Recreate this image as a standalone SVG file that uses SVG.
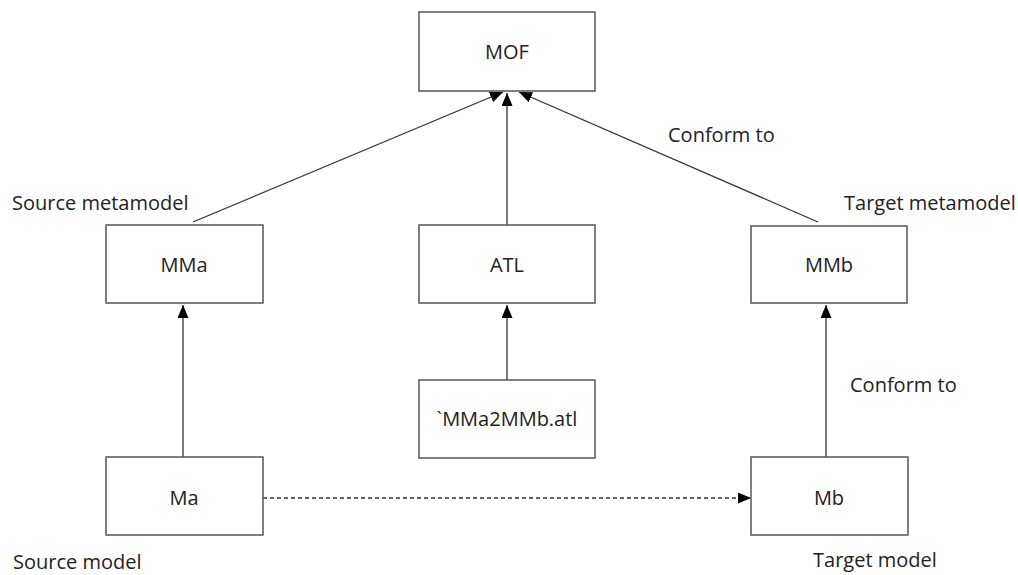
<svg xmlns="http://www.w3.org/2000/svg" width="1018" height="575" viewBox="0 0 1018 575">
<style>
  .box{fill:#fff;stroke:#555;stroke-width:1.5}
  .lbl{font-family:"Open Sans","Liberation Sans",sans-serif;font-size:20px;fill:#222}
  .c{text-anchor:middle}
  .edge{stroke:#333;stroke-width:1.3;fill:none}
  .dash{stroke-dasharray:4 3}
</style>
<defs>
  <marker id="arr" markerUnits="userSpaceOnUse" markerWidth="13" markerHeight="11" refX="13" refY="5.5" orient="auto">
    <path d="M0,0 L13,5.5 L0,11 z" fill="#000"/>
  </marker>
</defs>
<rect width="1018" height="575" fill="#fff"/>
<g id="connectors">
  <line class="edge" x1="193" y1="222" x2="503" y2="92" marker-end="url(#arr)"/>
  <line class="edge" x1="507" y1="225" x2="507" y2="93" marker-end="url(#arr)"/>
  <line class="edge" x1="818" y1="222" x2="519" y2="92" marker-end="url(#arr)"/>
  <line class="edge" x1="183" y1="457" x2="183" y2="305" marker-end="url(#arr)"/>
  <line class="edge" x1="507" y1="380" x2="507" y2="305" marker-end="url(#arr)"/>
  <line class="edge" x1="826" y1="457" x2="826" y2="305" marker-end="url(#arr)"/>
  <line class="edge dash" x1="263" y1="498" x2="751" y2="498" marker-end="url(#arr)"/>
</g>
<g id="MOF"><rect class="box" x="419" y="12" width="176" height="79"/><text class="lbl c" x="507" y="59">MOF</text></g>
<g id="MMa"><rect class="box" x="106" y="225" width="157" height="78"/><text class="lbl c" x="184" y="272">MMa</text></g>
<g id="ATL"><rect class="box" x="419" y="225" width="176" height="78"/><text class="lbl c" x="507" y="272">ATL</text></g>
<g id="MMb"><rect class="box" x="751" y="226" width="156" height="77"/><text class="lbl c" x="829" y="272">MMb</text></g>
<g id="MMa2MMb"><rect class="box" x="419" y="380" width="176" height="78"/><text class="lbl c" x="507" y="426">`MMa2MMb.atl</text></g>
<g id="Ma"><rect class="box" x="106" y="457" width="157" height="78"/><text class="lbl c" x="184" y="505">Ma</text></g>
<g id="Mb"><rect class="box" x="751" y="457" width="157" height="78"/><text class="lbl c" x="829" y="505">Mb</text></g>
<g id="labels">
  <text class="lbl" x="12" y="210">Source metamodel</text>
  <text class="lbl" x="844" y="210">Target metamodel</text>
  <text class="lbl" x="668" y="142">Conform to</text>
  <text class="lbl" x="850" y="392">Conform to</text>
  <text class="lbl" x="13" y="569">Source model</text>
  <text class="lbl" x="813" y="567">Target model</text>
</g>
</svg>
